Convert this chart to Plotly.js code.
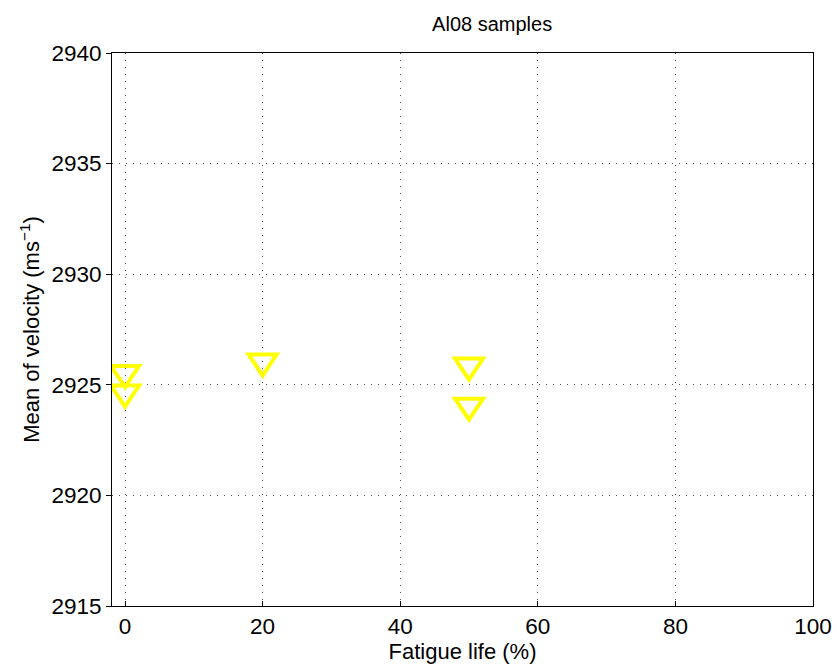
<!DOCTYPE html>
<html>
<head>
<meta charset="utf-8">
<script src="https://cdn.plot.ly/plotly-3.0.1.min.js"></script>
<style>html,body{margin:0;padding:0;background:#fff;}#chart{width:837px;height:666px;}</style>
</head>
<body>
<div id="chart"></div>
<script>
const fatigueLife = [0, 0, 20, 50, 50];
const meanVelocity = [2925.37, 2924.49, 2925.89, 2925.71, 2923.90];
const xTicks = [0, 20, 40, 60, 80, 100];
const yTicks = [2915, 2920, 2925, 2930, 2935, 2940];

const markerColor = '#ffff00';
const FONT = 'Liberation Sans, Arial, Helvetica, sans-serif';

const trace = {
  x: fatigueLife,
  y: meanVelocity,
  type: 'scatter',
  mode: 'markers',
  marker: {symbol: 'triangle-down-open', size: 20, color: markerColor, opacity: 0},
  showlegend: false,
  hoverinfo: 'x+y'
};

// MATLAB-style 'v' markers, anchored at each data point through the axis scales
const shapes = fatigueLife.map((xv, i) => ({
  type: 'path',
  xref: 'x', yref: 'y',
  xsizemode: 'pixel', ysizemode: 'pixel',
  xanchor: xv, yanchor: meanVelocity[i],
  path: 'M-14,10.5 L14,10.5 L0,-10.5 Z',
  line: {color: markerColor, width: 4},
  fillcolor: 'rgba(0,0,0,0)',
  layer: 'above'
}));

const axisCommon = {
  showline: true, linecolor: '#000', linewidth: 1, mirror: true,
  tickcolor: '#000', ticklen: 5,
  showgrid: true, gridcolor: '#555', griddash: '1px,6px', gridwidth: 1,
  zeroline: false,
  tickfont: {family: FONT, size: 22.5, color: '#000'}
};

const layout = {
  width: 837, height: 666,
  margin: {l: 112, r: 24, t: 53, b: 60},
  paper_bgcolor: '#fff', plot_bgcolor: '#fff',
  shapes: shapes,
  title: {text: 'Al08 samples', font: {family: FONT, size: 20, color: '#000'}, x: 0.588, xanchor: 'center', y: 0.964, yanchor: 'middle'},
  xaxis: Object.assign({}, axisCommon, {
    ticks: 'inside',
    range: [-1.89, 100], tickvals: xTicks, ticktext: xTicks.map(String),
    title: {text: 'Fatigue life (%)', font: {family: FONT, size: 22, color: '#000'}, standoff: 0}
  }),
  yaxis: Object.assign({}, axisCommon, {
    ticks: 'outside',
    range: [2915, 2940], tickvals: yTicks, ticktext: yTicks.map(String),
    title: {text: 'Mean of velocity (ms<sup>−1</sup>)', font: {family: FONT, size: 22, color: '#000'}, standoff: 5}
  })
};

Plotly.newPlot('chart', [trace], layout, {displayModeBar: false, staticPlot: true});
</script>
</body>
</html>
